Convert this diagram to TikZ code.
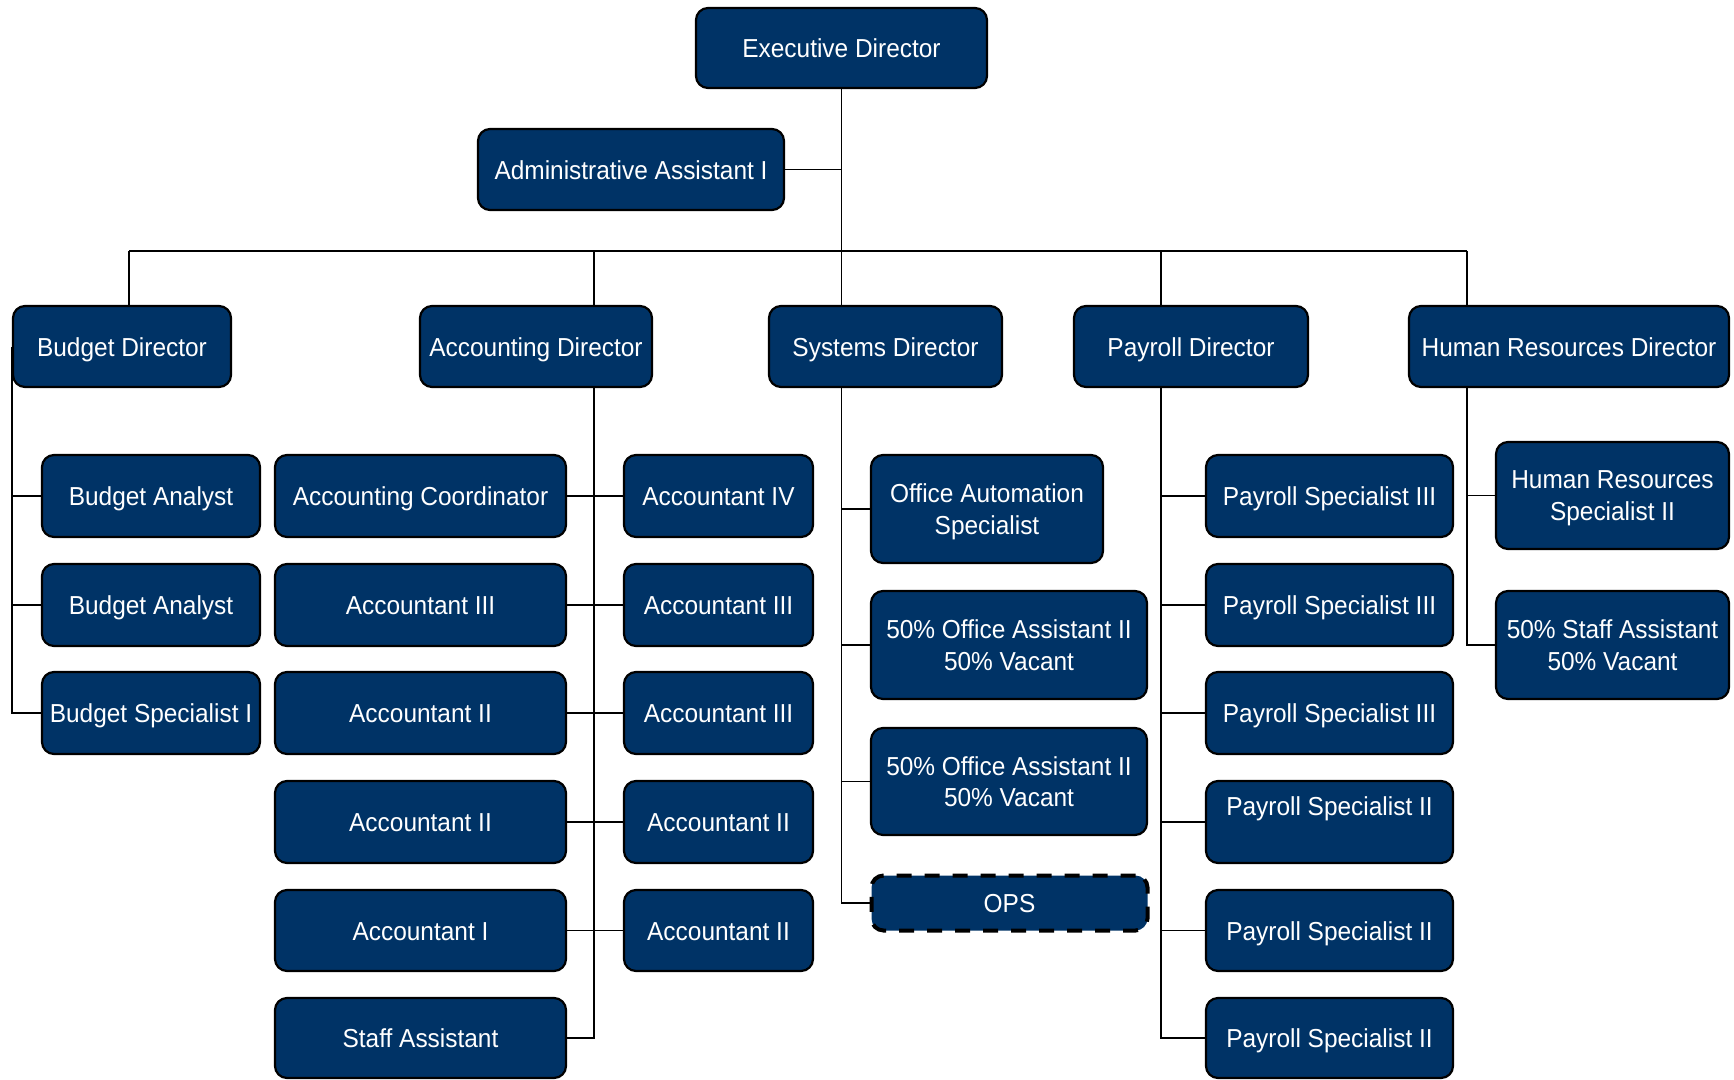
\documentclass[tikz,border=0pt]{standalone}
\usepackage{fontspec}
\setmainfont{Liberation Sans}[FakeStretch=0.94]
\usetikzlibrary{backgrounds}
\definecolor{navy}{RGB}{0,51,102}
\tikzset{
  box/.style={draw=black, fill=navy, line width=2.2pt, rounded corners=12pt,
    text=white, align=center, inner sep=0pt,
    font=\fontsize{26}{31.5}\selectfont},
  onebox/.style={box, text height=19.4pt, text depth=0pt},
  twobox/.style={box, text depth=0pt},
  vacantbox/.style={onebox, dashed, dash pattern=on 15pt off 13pt, line width=4pt},
  link/.style={draw=black, line width=1.8pt}
}
\begin{document}
\begin{tikzpicture}[x=1pt, y=-1pt]
\useasboundingbox (0,0) rectangle (1734,1079);

% top level
\node[onebox, minimum width=291pt, minimum height=80pt] (exec) at (841.5,48) {Executive Director};
\node[onebox, minimum width=306pt, minimum height=81pt] (admin) at (631,169.5) {Administrative Assistant I};

% directors
\node[onebox, minimum width=218pt, minimum height=81pt] (bd) at (122,346.5) {Budget Director};
\node[onebox, minimum width=232pt, minimum height=81pt] (ad) at (536,346.5) {Accounting Director};
\node[onebox, minimum width=233pt, minimum height=81pt] (sd) at (885.5,346.5) {Systems Director};
\node[onebox, minimum width=234pt, minimum height=81pt] (pd) at (1191,346.5) {Payroll Director};
\node[onebox, minimum width=320pt, minimum height=81pt] (hd) at (1569,346.5) {Human Resources Director};

% budget staff
\node[onebox, minimum width=218pt, minimum height=82pt] (ba1) at (151,496) {Budget Analyst};
\node[onebox, minimum width=218pt, minimum height=82pt] (ba2) at (151,605) {Budget Analyst};
\node[onebox, minimum width=218pt, minimum height=82pt] (bs1) at (151,713) {Budget Specialist I};

% accounting staff, left column
\node[onebox, minimum width=291pt, minimum height=82pt] (acl1) at (420.5,496) {Accounting Coordinator};
\node[onebox, minimum width=291pt, minimum height=82pt] (acl2) at (420.5,605) {Accountant III};
\node[onebox, minimum width=291pt, minimum height=82pt] (acl3) at (420.5,713) {Accountant II};
\node[onebox, minimum width=291pt, minimum height=82pt] (acl4) at (420.5,822) {Accountant II};
\node[onebox, minimum width=291pt, minimum height=81pt] (acl5) at (420.5,930.5) {Accountant I};
\node[onebox, minimum width=291pt, minimum height=80pt] (acl6) at (420.5,1038) {Staff Assistant};

% accounting staff, right column
\node[onebox, minimum width=189pt, minimum height=82pt] (acr1) at (718.5,496) {Accountant IV};
\node[onebox, minimum width=189pt, minimum height=82pt] (acr2) at (718.5,605) {Accountant III};
\node[onebox, minimum width=189pt, minimum height=82pt] (acr3) at (718.5,713) {Accountant III};
\node[onebox, minimum width=189pt, minimum height=82pt] (acr4) at (718.5,822) {Accountant II};
\node[onebox, minimum width=189pt, minimum height=81pt] (acr5) at (718.5,930.5) {Accountant II};

% systems staff
\node[twobox, minimum width=232pt, minimum height=108pt] (sy1) at (987,509) {Office Automation\\Specialist};
\node[twobox, minimum width=276pt, minimum height=108pt] (sy2) at (1009,645) {50\% Office Assistant II\\50\% Vacant};
\node[twobox, minimum width=276pt, minimum height=107pt] (sy3) at (1009,781.5) {50\% Office Assistant II\\50\% Vacant};
\node[vacantbox, minimum width=276pt, minimum height=55pt] (ops) at (1009.5,903) {OPS};

% payroll staff
\node[onebox, minimum width=247pt, minimum height=82pt] (py1) at (1329.5,496) {Payroll Specialist III};
\node[onebox, minimum width=247pt, minimum height=82pt] (py2) at (1329.5,605) {Payroll Specialist III};
\node[onebox, minimum width=247pt, minimum height=82pt] (py3) at (1329.5,713) {Payroll Specialist III};
\node[onebox, minimum width=247pt, minimum height=82pt] (py4) at (1329.5,822) {\raisebox{16.7pt}[0pt][0pt]{Payroll Specialist II}};
\node[onebox, minimum width=247pt, minimum height=81pt] (py5) at (1329.5,930.5) {Payroll Specialist II};
\node[onebox, minimum width=247pt, minimum height=80pt] (py6) at (1329.5,1038) {Payroll Specialist II};

% human resources staff
\node[twobox, minimum width=233pt, minimum height=107pt] (hr1) at (1612.5,495.5) {Human Resources\\Specialist II};
\node[twobox, minimum width=233pt, minimum height=108pt] (hr2) at (1612.5,645) {50\% Staff Assistant\\50\% Vacant};

% reporting lines, drawn beneath the boxes
\begin{scope}[on background layer]
  \coordinate (busL) at (129,251);
  \coordinate (acx) at (594,251);
  \coordinate (pyx) at (1161,251);
  \coordinate (busR) at (1467,251);

  \draw[link] (busL) -- (busR);
  \draw[link] (exec.south) |- (ops.west);
  \draw[link] (admin.east) -- (admin.east -| exec.south);

  % budget
  \draw[link] (busL) -- (busL |- bd.north);
  \draw[link] (bd.west) |- (bs1.west);
  \draw[link] (bd.west |- ba1.west) -- (ba1.west);
  \draw[link] (bd.west |- ba2.west) -- (ba2.west);

  % accounting
  \draw[link] (acx) |- (acl6.east);
  \draw[link] (acl1.east) -- (acr1.west);
  \draw[link] (acl2.east) -- (acr2.west);
  \draw[link] (acl3.east) -- (acr3.west);
  \draw[link] (acl4.east) -- (acr4.west);
  \draw[link] (acl5.east) -- (acr5.west);

  % systems
  \draw[link] (exec.south |- sy1.west) -- (sy1.west);
  \draw[link] (exec.south |- sy2.west) -- (sy2.west);
  \draw[link] (exec.south |- sy3.west) -- (sy3.west);

  % payroll
  \draw[link] (pyx) |- (py6.west);
  \draw[link] (pyx |- py1.west) -- (py1.west);
  \draw[link] (pyx |- py2.west) -- (py2.west);
  \draw[link] (pyx |- py3.west) -- (py3.west);
  \draw[link] (pyx |- py4.west) -- (py4.west);
  \draw[link] (pyx |- py5.west) -- (py5.west);

  % human resources
  \draw[link] (busR) |- (hr2.west);
  \draw[link] (busR |- hr1.west) -- (hr1.west);
\end{scope}
\end{tikzpicture}
\end{document}
